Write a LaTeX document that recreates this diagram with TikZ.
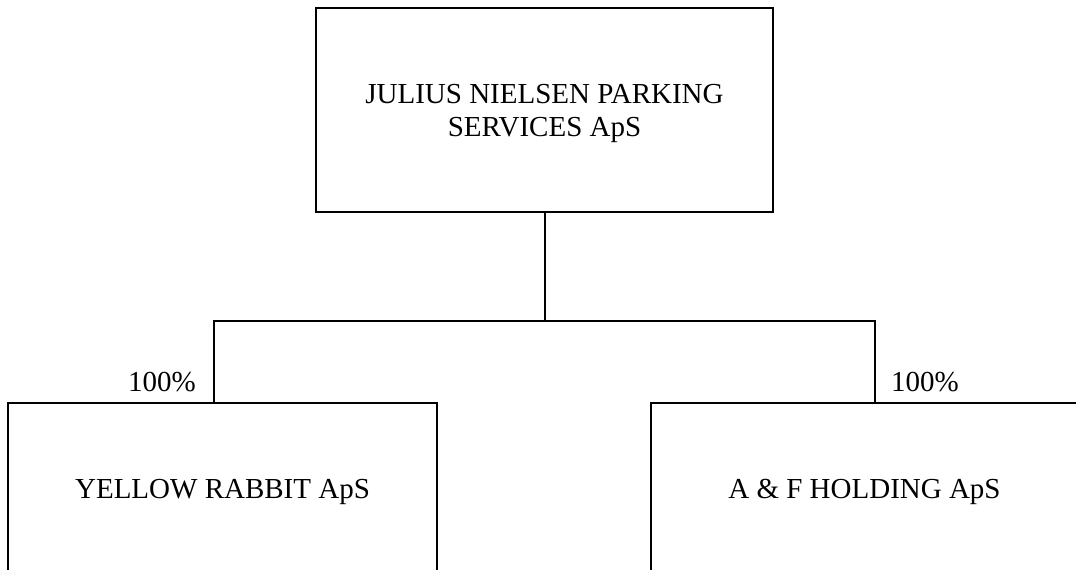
\documentclass[tikz,border=0pt]{standalone}
\usepackage{fontspec}
\setmainfont{Liberation Serif}
\begin{document}
\begin{tikzpicture}[x=1pt,y=-1pt,
  company/.style={draw=black,line width=2pt,rectangle,align=center,inner sep=0pt,
    text depth=0pt,font=\fontsize{29}{33}\selectfont},
  conn/.style={draw=black,line width=2pt},
  pct/.style={font=\fontsize{29}{33}\selectfont,inner sep=0pt,anchor=base west}]
\useasboundingbox (0,0) rectangle (1076,570);
\clip (0,0) rectangle (1076,570);
\node[company,minimum width=457pt,minimum height=204pt] (top) at (544.5,110) {JULIUS NIELSEN PARKING\\SERVICES ApS};
\node[company,minimum width=429pt,minimum height=172pt] (left) at (222.5,489) {YELLOW RABBIT ApS};
\node[company,minimum width=427pt,minimum height=172pt] (right) at (864.5,489) {A \& F HOLDING ApS};
\coordinate (jl) at (214,321);
\coordinate (jr) at (875,321);
\draw[conn] (top.south) -- (top.south |- jl);
\draw[conn,line cap=rect] (left.north -| jl) -- (jl) -- (jr) -- (right.north -| jr);
\node[pct] (pl) at (128,391) {100\%};
\node[pct] (pr) at (891,391) {100\%};
\end{tikzpicture}
\end{document}
